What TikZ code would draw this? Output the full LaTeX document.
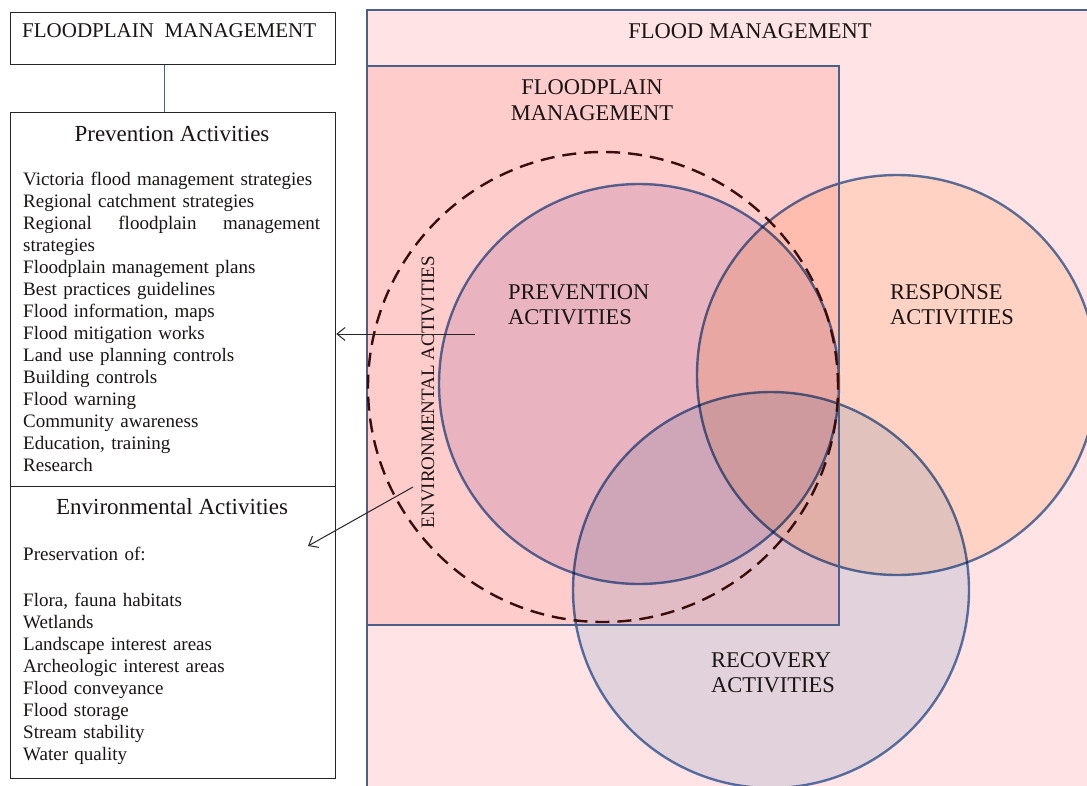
\documentclass[tikz,border=0pt]{standalone}
\usepackage{fontspec}
\setmainfont{Liberation Serif}
\usetikzlibrary{positioning, arrows.meta}

\definecolor{outerpink}{HTML}{FFE3E5}
\definecolor{fppink}{HTML}{FFCCCC}
\definecolor{edgeblue}{HTML}{4C5F88}
\definecolor{vennedge}{HTML}{5A7EB4}
\definecolor{prevfill}{HTML}{E9E2EF}
\definecolor{respfill}{HTML}{FFEDDB}
\definecolor{recfill}{HTML}{E2ECF5}
\definecolor{dashbrown}{HTML}{3A0D0D}
\definecolor{inktext}{HTML}{1A1414}

\tikzset{
	box/.style={draw=black!85, line width=1.3pt, anchor=north west, inner sep=0pt},
	area/.style={draw=edgeblue, line width=2.4pt},
	venn/.style={circle, draw=vennedge, line width=2.4pt, inner sep=0pt},
	envring/.style={circle, draw=dashbrown, line width=2.4pt, dash pattern=on 14pt off 8pt, inner sep=0pt},
	capstext/.style={text=inktext, inner sep=0pt, font=\fontsize{22.5}{25.5}\selectfont},
	titletext/.style={text=inktext, inner sep=0pt, font=\fontsize{23}{25}\selectfont},
	listtext/.style={text=inktext, inner sep=0pt, anchor=north west, align=left, text width=297pt, font=\fontsize{19}{22}\selectfont},
	pointer/.style={draw=black!85, line width=1pt, -{Straight Barb[length=8pt, width=13pt]}}
}

\begin{document}
\begin{tikzpicture}[x=1pt, y=-1pt]
	\clip (0,0) rectangle (1087,785);
	\fill[white] (0,0) rectangle (1087,785);

	% management areas
	\draw[area, fill=outerpink] (367,10) rectangle (1100,800);
	\draw[area, fill=fppink] (367,66) rectangle (839,625);

	\begin{scope}[blend mode=multiply]
		\node[venn, fill=prevfill, minimum size=400] (prevc) at (639,384) {};
		\node[venn, fill=respfill, minimum size=400] (respc) at (897,375) {};
		\node[venn, fill=recfill, minimum size=396] (recc) at (771,590) {};
	\end{scope}
	\draw[area] (367,66) rectangle (839,625);
	\node[envring, minimum size=470] (envc) at (603,387) {};

	\node[capstext] (fmtext) at (750,31) {FLOOD MANAGEMENT};
	\node[capstext, align=center] (fpmtitle) at (592,100) {FLOODPLAIN\\MANAGEMENT};
	\node[capstext, align=left, anchor=north west] (prevtext) at (508,284) {PREVENTION\\ACTIVITIES};
	\node[capstext, align=left, anchor=north west] (resptext) at (890,284) {RESPONSE\\ACTIVITIES};
	\node[capstext, align=left, anchor=north west] (rectext) at (711,652) {RECOVERY\\ACTIVITIES};
	\node[text=inktext, inner sep=0pt, rotate=90, font=\fontsize{19}{22}\selectfont] (envtext) at (428,392) {ENVIRONMENTAL ACTIVITIES};

	% left hand boxes
	\node[box, minimum width=325, minimum height=52] (fpmbox) at (10,12) {};
	\node[box, minimum width=325, minimum height=374] (prevbox) at (10,112) {};
	\node[box, minimum width=325, minimum height=292] (envbox) at (10,486) {};
	\draw[edgeblue, line width=1pt] (fpmbox.south -| 164,0) -- (prevbox.north -| 164,0);

	\node[titletext, anchor=west, font=\fontsize{21}{25}\selectfont] (fpmlabel) at (22,31) {FLOODPLAIN\ \ MANAGEMENT};
	\node[titletext] (prevtitle) at (172,134) {Prevention Activities};
	\node[titletext] (envtitle) at (172,507) {Environmental Activities};

	\node[listtext] (prevlist) at (23,172) {Victoria flood management strategies\\
		Regional catchment strategies\\
		\leavevmode\hbox to 297pt{Regional\hfill floodplain\hfill management}\\
		strategies\\
		Floodplain management plans\\
		Best practices guidelines\\
		Flood information, maps\\
		Flood mitigation works\\
		Land use planning controls\\
		Building controls\\
		Flood warning\\
		Community awareness\\
		Education, training\\
		Research};

	\node[listtext] (envlist) at (23,547) {Preservation of:\\[24pt]
		Flora, fauna habitats\\
		Wetlands\\
		Landscape interest areas\\
		Archeologic interest areas\\
		Flood conveyance\\
		Flood storage\\
		Stream stability\\
		Water quality};

	% pointers
	\coordinate (prevtail) at (475,334);
	\draw[pointer] (prevtail) -- (prevtail -| prevbox.east);
	\coordinate (envtail) at (413,487);
	\coordinate (envtip) at (308,546);
	\draw[pointer] (envtail) -- (envtip);
\end{tikzpicture}
\end{document}
